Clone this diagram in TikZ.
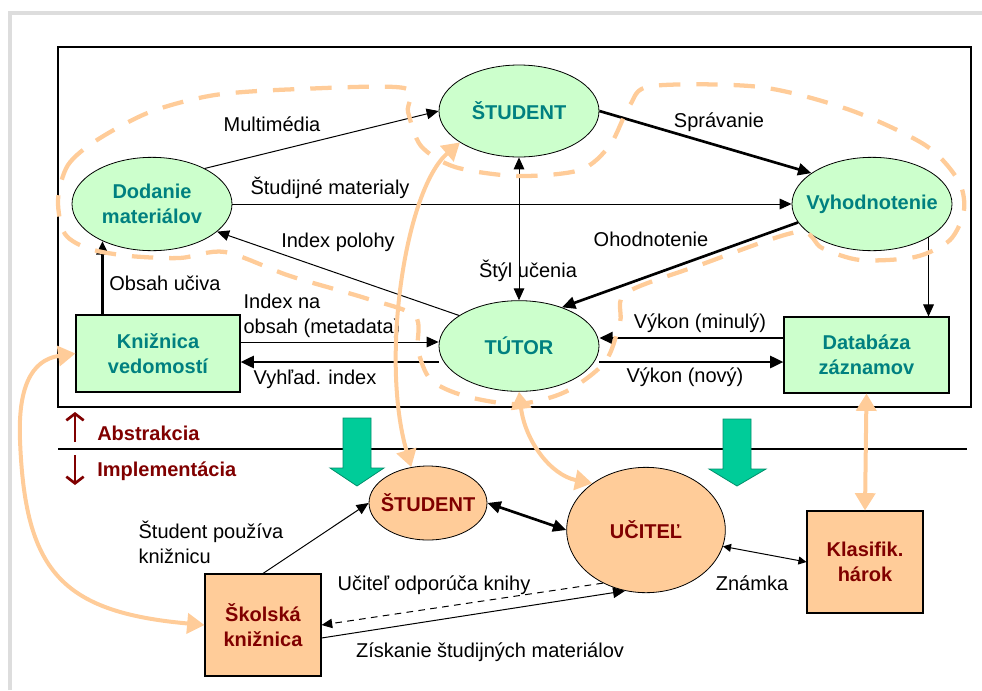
\documentclass[tikz,border=0pt]{standalone}
\usepackage{fontspec}
\setmainfont{Liberation Sans}
\usetikzlibrary{arrows.meta,calc,shapes.geometric}
\definecolor{grfill}{HTML}{CCFFCC}
\definecolor{teal2}{HTML}{008080}
\definecolor{orfill}{HTML}{FFCC99}
\definecolor{dred}{HTML}{800000}
\definecolor{peach}{HTML}{FFCC99}
\definecolor{bigarrow}{HTML}{00CC99}
\definecolor{framegray}{HTML}{DDDDDD}
\begin{document}
\begin{tikzpicture}[x=0.75pt,y=-0.75pt,
  every node/.style={font=\fontsize{15}{18.75}\selectfont},
  gell/.style={ellipse, draw, line width=0.6pt, fill=grfill, minimum width=120pt, inner sep=0pt},
  gtxt/.style={text=teal2, font=\fontsize{15}{18.75}\selectfont\bfseries, align=center},
  grect/.style={draw, line width=0.8pt, fill=grfill, text=teal2, font=\fontsize{15}{18.75}\selectfont\bfseries, align=center, inner sep=0pt},
  oell/.style={ellipse, draw, line width=0.6pt, fill=orfill, inner sep=0pt},
  otxt/.style={text=dred, font=\fontsize{15}{18.75}\selectfont\bfseries, align=center},
  orect/.style={draw, line width=0.8pt, fill=orfill, text=dred, font=\fontsize{15}{18.75}\selectfont\bfseries, align=center, inner sep=0pt, minimum width=87pt, minimum height=76.5pt},
  lbl/.style={inner sep=1pt},
  thinarrow/.style={line width=0.75pt, -{Triangle[length=9pt,width=8pt]}},
  thickarrow/.style={line width=2pt, -{Triangle[length=10pt,width=9pt]}},
  peacharrow/.style={draw=peach, line width=3pt, {Triangle[length=13pt,width=15pt]}-{Triangle[length=13pt,width=15pt]}},
  region/.style={draw=peach, line width=3.2pt, dash pattern=on 16pt off 12pt},
  bigdown/.style={fill=bigarrow, draw=bigarrow!70!black, line width=0.6pt},
  levelarrow/.style={draw=dred, line width=2pt, -{Straight Barb[length=5pt,width=13pt]}}
]
\useasboundingbox (0,0) rectangle (982,690);
% frame
\draw[framegray, line width=2.5pt] (10,690) -- (10,13) -- (982,13);
\draw[line width=1pt] (58,47) rectangle (971,407);
\draw[line width=2.2pt] (58,449) -- (967,449);

% top nodes
\node[gell, minimum height=69pt, label={[gtxt]center:ŠTUDENT}] (st) at (519,111) {};
\node[gell, minimum height=70pt, label={[gtxt]center:Dodanie\\materiálov}] (dm) at (152,204) {};
\node[gell, minimum height=70pt, label={[gtxt]center:Vyhodnotenie}] (vy) at (872,204) {};
\node[gell, minimum height=68pt, label={[gtxt]center:TÚTOR}] (tu) at (519,346) {};
\node[grect, minimum width=123pt, minimum height=57.75pt] (kv) at (158,353.5) {Knižnica\\vedomostí};
\node[grect, minimum width=123.75pt, minimum height=57pt] (db) at (866.5,355) {Databáza\\záznamov};

% bottom nodes
\node[oell, minimum width=88.5pt, minimum height=55.5pt, label={[otxt]center:ŠTUDENT}] (s2) at (428,503) {};
\node[oell, minimum width=119pt, minimum height=94pt, label={[otxt]center:UČITEĽ}] (u) at (646,530) {};
\node[orect] (kh) at (865,562) {Klasifik.\\hárok};
\node[orect] (sk) at (263,625) {Školská\\knižnica};

% top connectors
\draw[thinarrow] (dm.34) -- (st.west);
\draw[thinarrow] (dm.east) -- (vy.west);
\draw[thickarrow] (st.east) -- (vy.153);
\draw[line width=0.75pt, {Triangle[length=9pt,width=8pt]}-{Triangle[length=9pt,width=8pt]}] (st.south) -- (tu.north);
\draw[thinarrow] (tu.153) -- (dm.-23);
\draw[thickarrow] (vy.194) -- (tu.42);
\coordinate (ob) at ($(kv.north west)+(27,0)$);
\draw[thickarrow] (ob) -- (ob |- dm.217);
\coordinate (ia) at ($(kv.east)+(0,-11.5)$);
\draw[thinarrow] (ia) -- (ia -| tu.west);
\coordinate (ib) at ($(kv.east)+(0,8.5)$);
\draw[thickarrow] (ib -| tu.west) -- (ib);
\coordinate (va) at ($(db.west)+(0,-17)$);
\draw[thickarrow] (va) -- (va -| tu.east);
\coordinate (vb) at ($(db.west)+(0,7)$);
\draw[thickarrow] (vb -| tu.east) -- (vb);
\coordinate (vd) at ($(db.north east)+(-21,0)$);
\draw[thinarrow] (vd |- vy.-30) -- (vd);

% bottom connectors
\draw[thinarrow] (sk.north) -- (s2.west);
\draw[line width=2pt, {Triangle[length=10pt,width=9pt]}-{Triangle[length=10pt,width=9pt]}] (s2.east) -- (u.west);
\draw[line width=0.75pt, dash pattern=on 5pt off 4pt, -{Triangle[length=8pt,width=7pt]}] (u.231) -- (sk.east);
\coordinate (zs) at ($(sk.east)+(0,13)$);
\draw[thinarrow] (zs) -- (u.251);
\draw[line width=0.75pt, {Triangle[length=6pt,width=6pt]}-{Triangle[length=6pt,width=6pt]}] (u.-12) -- (kh.west);

% green arrows
\draw[bigdown] (343,418) -- (371,418) -- (371,468) -- (384,468) -- (357,486) -- (330,468) -- (343,468) -- cycle;
\draw[bigdown] (723,419) -- (751,419) -- (751,469) -- (766,469) -- (737,486) -- (709,469) -- (723,469) -- cycle;

% level labels
\coordinate (ab1) at (75,442);
\coordinate (ab2) at (75,412);
\coordinate (im1) at (75,455);
\coordinate (im2) at (75,485);
\draw[levelarrow] (ab1) -- (ab2);
\draw[levelarrow] (im1) -- (im2);
\node[anchor=west, text=dred, font=\fontsize{15}{18.75}\selectfont\bfseries, inner sep=0pt] at (97,433) {Abstrakcia};
\node[anchor=west, text=dred, font=\fontsize{15}{18.75}\selectfont\bfseries, inner sep=0pt] at (97,471) {Implementácia};

% labels
\node[lbl] at (272,124) {Multimédia};
\node[lbl] at (330,188) {Študijné materialy};
\node[lbl] at (719,122) {Správanie};
\node[lbl] at (338,242) {Index polohy};
\node[lbl] at (528,271) {Štýl učenia};
\node[lbl] at (651,239) {Ohodnotenie};
\node[lbl] at (165,283) {Obsah učiva};
\node[lbl, anchor=west, align=left] at (242,316) {Index na\\obsah (metadata)};
\node[lbl] at (315,379) {Vyhľad. index};
\node[lbl] at (700,323) {Výkon (minulý)};
\node[lbl] at (685,377) {Výkon (nový)};
\node[lbl, anchor=west, align=left] at (137,542) {Študent používa\\knižnicu};
\node[lbl] at (434,585) {Učiteľ odporúča knihy};
\node[lbl] at (490,652) {Získanie študijných materiálov};
\node[lbl] at (752,583) {Známka};

% dashed region
\draw[region] plot[smooth cycle, tension=0.5] coordinates {
  (58,200) (68,165) (97,140) (150,112) (215,95) (300,89) (404,88) (408,112)
  (421,146) (455,167) (517,176) (580,170) (610,145) (630,105) (652,86)
  (760,87) (850,110) (925,145) (958,180) (964,210) (950,240) (915,257)
  (860,260) (822,248) (797,232) (700,265) (626,293) (620,322) (605,362)
  (565,392) (517,404) (465,396) (431,380) (418,350) (415,316) (365,298)
  (290,276) (225,252) (180,258) (130,256) (90,249) (65,234)};

% peach arrows
\draw[peacharrow] (kv.west) .. controls (30,360) and (18,390) .. (20,440) .. controls (25,570) and (60,612) .. (sk.west);
\draw[peacharrow] (st.208) .. controls (405,190) and (380,360) .. (s2.115);
\draw[peacharrow] (tu.south) .. controls (525,440) and (550,475) .. (u.139);
\draw[peacharrow] (db.south) -- (kh.north);
\end{tikzpicture}
\end{document}
